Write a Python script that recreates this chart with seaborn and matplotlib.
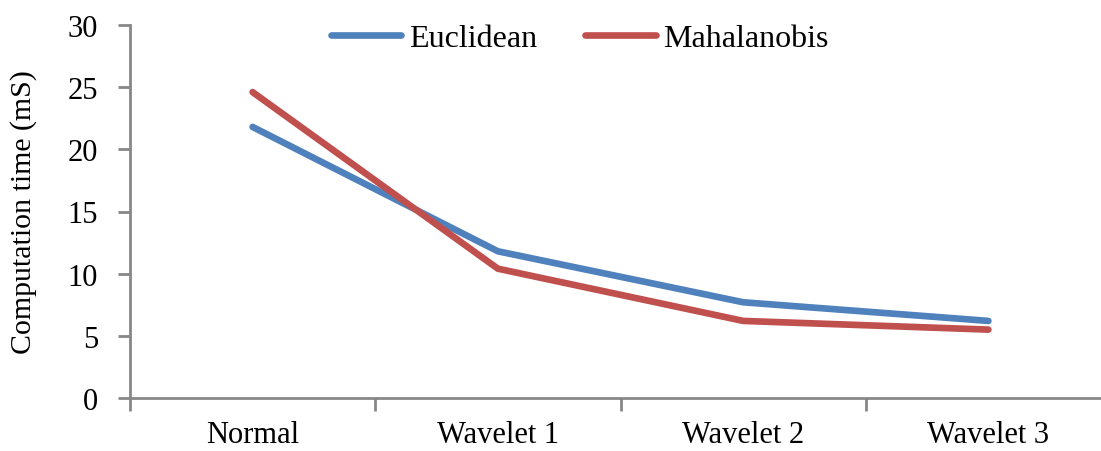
import matplotlib
matplotlib.use("Agg")
import matplotlib.pyplot as plt
import seaborn as sns
import pandas as pd

categories = ["Normal", "Wavelet 1", "Wavelet 2", "Wavelet 3"]
euclidean = [21.8, 11.8, 7.7, 6.2]
mahalanobis = [24.6, 10.4, 6.2, 5.5]
series_names = ["Euclidean", "Mahalanobis"]
yticks = [0, 5, 10, 15, 20, 25, 30]

df = pd.DataFrame({
    "cat": categories * 2,
    "value": euclidean + mahalanobis,
    "series": [series_names[0]] * 4 + [series_names[1]] * 4,
})

sns.set_theme(style="white")
plt.rcParams['font.family'] = ['Liberation Serif', 'DejaVu Serif']
plt.rcParams['text.color'] = 'black'
plt.rcParams['axes.labelcolor'] = 'black'
plt.rcParams['xtick.color'] = 'black'
plt.rcParams['ytick.color'] = 'black'

W, H = 1101, 452
fig = plt.figure(figsize=(W / 100, H / 100), dpi=100)
left, right, bottom, top = 130, 1111, 399, 26
ax = fig.add_axes([left / W, (H - bottom) / H, (right - left) / W, (bottom - top) / H])

sns.lineplot(data=df, x="cat", y="value", hue="series", sort=False,
             palette=["#4F81BD", "#C0504D"], linewidth=4.8, ax=ax,
             solid_capstyle="round", legend=True)

ax.set_ylim(0, 30)
ax.set_xlim(-0.5, 3.5)
ax.set_yticks(yticks)
ax.set_yticklabels([str(t) for t in yticks], fontsize=22)
ax.set_xticks([-0.5, 0.5, 1.5, 2.5, 3.5])
ax.set_xticklabels([])
ax.set_xticks(range(4), minor=True)
ax.set_xticklabels(categories, minor=True, fontsize=22)
ax.tick_params(axis="x", which="minor", bottom=True, length=0, pad=16)
ax.tick_params(axis="x", which="major", bottom=True, length=9, width=2,
               color="#878787", direction="out")
ax.tick_params(axis="y", left=True, length=9, width=2, color="#878787",
               direction="out", pad=14)
ax.set_xlabel("")
ax.set_ylabel("Computation time (mS)", fontsize=21.5, labelpad=22)

for s in ["top", "right"]:
    ax.spines[s].set_visible(False)
for s in ["left", "bottom"]:
    ax.spines[s].set_color("#878787")
    ax.spines[s].set_linewidth(2)

leg = ax.legend(loc="upper center", bbox_to_anchor=((580 - left) / (right - left), 1.08),
                ncol=2, frameon=False, fontsize=23, handlelength=2.2,
                handletextpad=0.25, columnspacing=1.5)
for line in leg.get_lines():
    line.set_linewidth(4.8)
    line.set_solid_capstyle("round")

fig.savefig("out.png", dpi=100)
